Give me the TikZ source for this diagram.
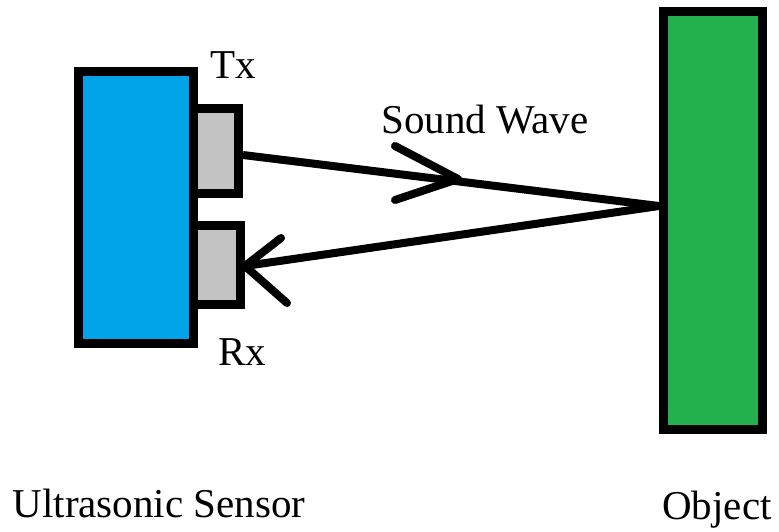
\documentclass[tikz,border=0pt]{standalone}
\usepackage{fontspec}
\setmainfont{Liberation Serif}
\definecolor{sensorblue}{HTML}{00A2E8}
\definecolor{objgreen}{HTML}{22B14C}
\definecolor{padgray}{HTML}{C3C3C3}
\tikzset{
  box/.style={draw=black, line width=9pt, rectangle, inner sep=0pt},
  wave/.style={draw=black, line width=8pt},
  barb/.style={draw=black, line width=8pt, line cap=round, line join=round},
  lbl/.style={font=\fontsize{41}{48}\selectfont, inner sep=0pt, anchor=base}
}
\begin{document}
\begin{tikzpicture}[x=1pt, y=-1pt]
\useasboundingbox (0,0) rectangle (779,531);
% shapes
\node[box, fill=padgray, minimum width=45pt, minimum height=85pt] (tx) at (216,151) {};
\node[box, fill=padgray, minimum width=47pt, minimum height=79pt] (rx) at (217,265) {};
\node[box, fill=sensorblue, minimum width=115pt, minimum height=272pt] (sensor) at (136,207.5) {};
\node[box, fill=objgreen, minimum width=99pt, minimum height=418pt] (object) at (713,220.5) {};
% connectors
\coordinate (txout) at (243,155);
\coordinate (hit) at (659,206);
\coordinate (rxin) at (245,266);
\draw[wave] (txout) -- (hit);
\draw[wave] (hit) -- (rxin);
% arrowheads
\coordinate (tip1) at (458,179);
\draw[barb] (395,146) -- (tip1) -- (395,200);
\draw[barb] (281,238) -- (rxin) -- (287,303);
% labels
\node[lbl] (txl) at (233,78) {Tx};
\node[lbl] (rxl) at (242,365) {Rx};
\node[lbl] (swl) at (485,133) {Sound Wave};
\node[lbl] (usl) at (159,517) {Ultrasonic Sensor};
\node[lbl] (objl) at (717,519) {Object};
\end{tikzpicture}
\end{document}
